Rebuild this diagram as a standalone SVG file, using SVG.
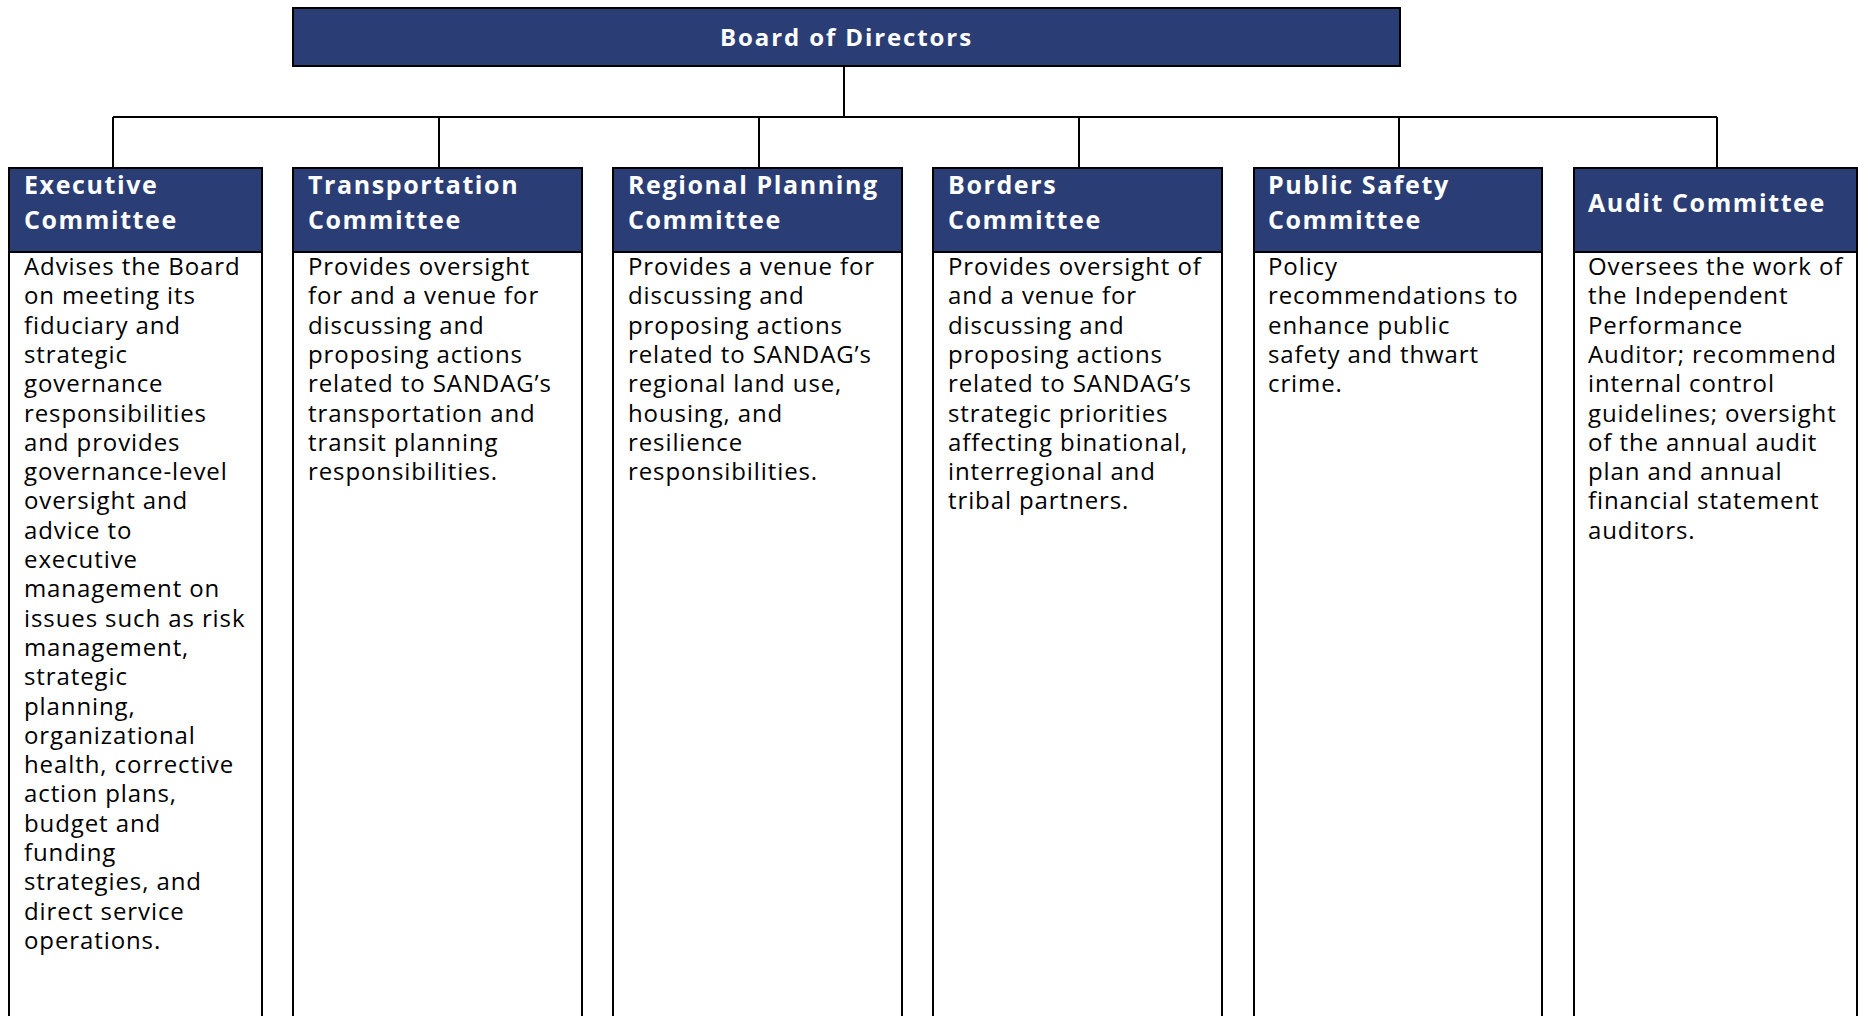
<svg xmlns="http://www.w3.org/2000/svg" width="1860" height="1016" viewBox="0 0 1860 1016">
<style>
.hdr{fill:#2a3e75;stroke:#000;stroke-width:2}
.body{fill:#fff;stroke:#000;stroke-width:2}
.conn{fill:none;stroke:#000;stroke-width:2}
.ht{font-family:"Open Sans","Liberation Sans",sans-serif;font-weight:700;font-size:25px;fill:#fff;letter-spacing:1.6px}
.bt{font-family:"Open Sans","Liberation Sans",sans-serif;font-size:24px;fill:#000;letter-spacing:0.9px}
.board{font-family:"Open Sans","Liberation Sans",sans-serif;font-weight:700;font-size:24px;fill:#fff;letter-spacing:1.9px}
</style>
<rect width="1860" height="1016" fill="#fff"/>
<g id="connectors">
<path class="conn" d="M844 66V117M113 117H1717M113 117V168M439 117V168M759 117V168M1079 117V168M1399 117V168M1717 117V168"/>
</g>
<g id="board">
<rect class="hdr" x="293" y="8" width="1107" height="58"/>
<text class="board" x="846.5" y="46" text-anchor="middle">Board of Directors</text>
</g>
<g id="executive">
<rect class="body" x="9" y="252" width="253" height="790"/>
<rect class="hdr" x="9" y="168" width="253" height="84"/>
<text class="ht" x="24" y="194">Executive</text>
<text class="ht" x="24" y="229">Committee</text>
<text class="bt">
<tspan x="24" y="275">Advises the Board</tspan>
<tspan x="24" y="304.3">on meeting its</tspan>
<tspan x="24" y="333.6">fiduciary and</tspan>
<tspan x="24" y="362.9">strategic</tspan>
<tspan x="24" y="392.2">governance</tspan>
<tspan x="24" y="421.5">responsibilities</tspan>
<tspan x="24" y="450.8">and provides</tspan>
<tspan x="24" y="480.1">governance-level</tspan>
<tspan x="24" y="509.4">oversight and</tspan>
<tspan x="24" y="538.7">advice to</tspan>
<tspan x="24" y="568">executive</tspan>
<tspan x="24" y="597.3">management on</tspan>
<tspan x="24" y="626.6">issues such as risk</tspan>
<tspan x="24" y="655.9">management,</tspan>
<tspan x="24" y="685.2">strategic</tspan>
<tspan x="24" y="714.5">planning,</tspan>
<tspan x="24" y="743.8">organizational</tspan>
<tspan x="24" y="773.1">health, corrective</tspan>
<tspan x="24" y="802.4">action plans,</tspan>
<tspan x="24" y="831.7">budget and</tspan>
<tspan x="24" y="861">funding</tspan>
<tspan x="24" y="890.3">strategies, and</tspan>
<tspan x="24" y="919.6">direct service</tspan>
<tspan x="24" y="948.9">operations.</tspan>
</text>
</g>
<g id="transportation">
<rect class="body" x="293" y="252" width="289" height="790"/>
<rect class="hdr" x="293" y="168" width="289" height="84"/>
<text class="ht" x="308" y="194">Transportation</text>
<text class="ht" x="308" y="229">Committee</text>
<text class="bt">
<tspan x="308" y="275">Provides oversight</tspan>
<tspan x="308" y="304.3">for and a venue for</tspan>
<tspan x="308" y="333.6">discussing and</tspan>
<tspan x="308" y="362.9">proposing actions</tspan>
<tspan x="308" y="392.2">related to SANDAG’s</tspan>
<tspan x="308" y="421.5">transportation and</tspan>
<tspan x="308" y="450.8">transit planning</tspan>
<tspan x="308" y="480.1">responsibilities.</tspan>
</text>
</g>
<g id="regional-planning">
<rect class="body" x="613" y="252" width="289" height="790"/>
<rect class="hdr" x="613" y="168" width="289" height="84"/>
<text class="ht" x="628" y="194">Regional Planning</text>
<text class="ht" x="628" y="229">Committee</text>
<text class="bt">
<tspan x="628" y="275">Provides a venue for</tspan>
<tspan x="628" y="304.3">discussing and</tspan>
<tspan x="628" y="333.6">proposing actions</tspan>
<tspan x="628" y="362.9">related to SANDAG’s</tspan>
<tspan x="628" y="392.2">regional land use,</tspan>
<tspan x="628" y="421.5">housing, and</tspan>
<tspan x="628" y="450.8">resilience</tspan>
<tspan x="628" y="480.1">responsibilities.</tspan>
</text>
</g>
<g id="borders">
<rect class="body" x="933" y="252" width="289" height="790"/>
<rect class="hdr" x="933" y="168" width="289" height="84"/>
<text class="ht" x="948" y="194">Borders</text>
<text class="ht" x="948" y="229">Committee</text>
<text class="bt">
<tspan x="948" y="275">Provides oversight of</tspan>
<tspan x="948" y="304.3">and a venue for</tspan>
<tspan x="948" y="333.6">discussing and</tspan>
<tspan x="948" y="362.9">proposing actions</tspan>
<tspan x="948" y="392.2">related to SANDAG’s</tspan>
<tspan x="948" y="421.5">strategic priorities</tspan>
<tspan x="948" y="450.8">affecting binational,</tspan>
<tspan x="948" y="480.1">interregional and</tspan>
<tspan x="948" y="509.4">tribal partners.</tspan>
</text>
</g>
<g id="public-safety">
<rect class="body" x="1254" y="252" width="288" height="790"/>
<rect class="hdr" x="1254" y="168" width="288" height="84"/>
<text class="ht" x="1268" y="194">Public Safety</text>
<text class="ht" x="1268" y="229">Committee</text>
<text class="bt">
<tspan x="1268" y="275">Policy</tspan>
<tspan x="1268" y="304.3">recommendations to</tspan>
<tspan x="1268" y="333.6">enhance public</tspan>
<tspan x="1268" y="362.9">safety and thwart</tspan>
<tspan x="1268" y="392.2">crime.</tspan>
</text>
</g>
<g id="audit">
<rect class="body" x="1574" y="252" width="283" height="790"/>
<rect class="hdr" x="1574" y="168" width="283" height="84"/>
<text class="ht" x="1588" y="212">Audit Committee</text>
<text class="bt">
<tspan x="1588" y="275">Oversees the work of</tspan>
<tspan x="1588" y="304.3">the Independent</tspan>
<tspan x="1588" y="333.6">Performance</tspan>
<tspan x="1588" y="362.9">Auditor; recommend</tspan>
<tspan x="1588" y="392.2">internal control</tspan>
<tspan x="1588" y="421.5">guidelines; oversight</tspan>
<tspan x="1588" y="450.8">of the annual audit</tspan>
<tspan x="1588" y="480.1">plan and annual</tspan>
<tspan x="1588" y="509.4">financial statement</tspan>
<tspan x="1588" y="538.7">auditors.</tspan>
</text>
</g>
</svg>
